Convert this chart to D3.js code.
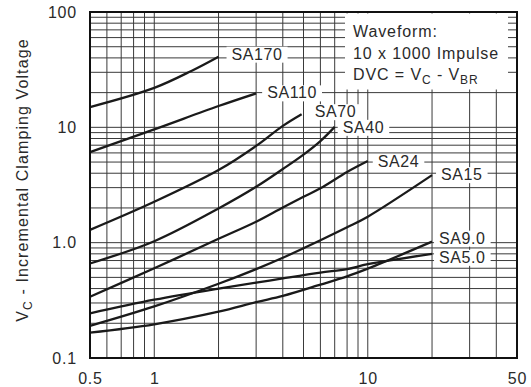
<!DOCTYPE html>
<html>
<head>
<meta charset="utf-8">
<script src="https://cdn.jsdelivr.net/npm/d3@7"></script>
<style>
  body { margin: 0; background: #fff; }
  svg text { font-family: "Liberation Sans", Arial, sans-serif; fill: #2a2a2a; }
</style>
</head>
<body>
<div id="chart"></div>
<script>
// values (x = peak pulse current, y = delta Vc)
var sa170 = [[0.5, 15], [1, 22], [1.5, 31], [2, 41]];
var sa110 = [[0.5, 6.1], [1, 9.6], [2, 15.3], [3, 19.7]];
var sa70 = [[0.5, 1.29], [1, 2.26], [2, 4.26], [3, 6.9], [4, 10.3], [4.9, 13]];
var sa40 = [[0.5, 0.66], [1, 1.03], [2, 1.98], [3, 3.05], [4, 4.35], [5, 5.8], [6, 7.6], [7, 10.1]];
var sa24 = [[0.5, 0.34], [1, 0.6], [2, 1.08], [3, 1.52], [4, 2.02], [5, 2.5], [6, 2.96], [8, 4.1], [10, 5.1]];
var sa15 = [[0.5, 0.19], [1, 0.28], [2, 0.44], [3, 0.59], [4, 0.74], [6, 1.05], [8, 1.36], [10, 1.68], [20, 3.85]];
var sa9 = [[0.5, 0.166], [1, 0.196], [2, 0.252], [3, 0.305], [4, 0.345], [6, 0.432], [8, 0.51], [10, 0.595], [20, 1.02]];
var sa5 = [[0.5, 0.244], [1, 0.32], [2, 0.40], [3, 0.45], [4, 0.49], [6, 0.55], [8, 0.59], [10, 0.65], [20, 0.8]];

var seriesNames = ['SA170', 'SA110', 'SA70', 'SA40', 'SA24', 'SA15', 'SA9.0', 'SA5.0'];
var seriesValues = [sa170, sa110, sa70, sa40, sa24, sa15, sa9, sa5];

var xTicks = [0.5, 1, 10, 50];
var xTickLabels = ['0.5', '1', '10', '50'];
var yTicks = [0.1, 1, 10, 100];
var yTickLabels = ['0.1', '1.0', '10', '100'];

// label nudges (px) relative to the end of each curve
var labelShift = {
    'SA170': [13, 3], 'SA110': [11, 5], 'SA70': [13, 3], 'SA40': [8, 6],
    'SA24': [10, 6], 'SA15': [9, 5], 'SA9.0': [7, 2], 'SA5.0': [7, 9]
};

var width = 531, height = 387;
var margin = { left: 90, right: 14, top: 12, bottom: 29 };

var svg = d3.select('#chart').append('svg')
    .attr('width', width)
    .attr('height', height);

var x = d3.scaleLog()
    .domain([0.5, 50])
    .range([margin.left, width - margin.right]);

var y = d3.scaleLog()
    .domain([0.1, 100])
    .range([height - margin.bottom, margin.top]);

// grid
var grid = svg.append('g').attr('class', 'grid')
    .attr('stroke', '#3a3a3a')
    .attr('stroke-width', 1);

grid.selectAll('.vline')
    .data(x.ticks())
    .enter().append('line')
    .attr('x1', function (d) { return x(d); })
    .attr('x2', function (d) { return x(d); })
    .attr('y1', y(0.1))
    .attr('y2', y(100));

grid.selectAll('.hline')
    .data(y.ticks())
    .enter().append('line')
    .attr('y1', function (d) { return y(d); })
    .attr('y2', function (d) { return y(d); })
    .attr('x1', x(0.5))
    .attr('x2', x(50));

// white boxes behind the notes
var boxes = svg.append('g');
var notes = svg.append('g');

// legend note
var legend = notes.append('text')
    .style('font-size', '16px')
    .style('letter-spacing', '0.9px');
legend.append('tspan').attr('x', 353).attr('y', 37).text('Waveform:');
legend.append('tspan').attr('x', 353).attr('y', 58.5).text('10 x 1000 Impulse');
legend.append('tspan').attr('x', 353).attr('y', 80).text('DVC = V');
legend.append('tspan').attr('dy', 4).style('font-size', '12px').text('C');
legend.append('tspan').attr('dy', -4).text(' - V');
legend.append('tspan').attr('dy', 4).style('font-size', '12px').text('BR');

boxes.append('rect')
    .attr('x', 345).attr('y', 13.5)
    .attr('width', 163).attr('height', 76)
    .attr('fill', '#fff');

// curves
var line = d3.line()
    .x(function (d) { return x(d[0]); })
    .y(function (d) { return y(d[1]); })
    .curve(d3.curveCatmullRom.alpha(0.5));

svg.append('g').selectAll('path')
    .data(seriesValues)
    .enter().append('path')
    .attr('d', line)
    .attr('fill', 'none')
    .attr('stroke', '#1a1a1a')
    .attr('stroke-width', 2.3);

// curve labels
seriesNames.forEach(function (name, i) {
    var last = seriesValues[i][seriesValues[i].length - 1];
    var t = notes.append('text')
        .attr('x', x(last[0]) + labelShift[name][0])
        .attr('y', y(last[1]) + labelShift[name][1])
        .style('font-size', '16px')
        .style('letter-spacing', '0.6px')
        .text(name);
    var b = t.node().getBBox();
    boxes.append('rect')
        .attr('x', b.x - 5).attr('y', b.y + 1)
        .attr('width', b.width + 10).attr('height', b.height - 1)
        .attr('fill', '#fff');
});

// frame
svg.append('rect')
    .attr('x', x(0.5)).attr('y', y(100))
    .attr('width', x(50) - x(0.5)).attr('height', y(0.1) - y(100))
    .attr('fill', 'none')
    .attr('stroke', '#111')
    .attr('stroke-width', 2);

// axes (labels only)
var xAxis = svg.append('g')
    .attr('transform', 'translate(0,' + y(0.1) + ')')
    .call(d3.axisBottom(x).tickValues(xTicks).tickSize(0).tickPadding(15)
        .tickFormat(function (d, i) { return xTickLabels[i]; }));

var yAxis = svg.append('g')
    .attr('transform', 'translate(' + x(0.5) + ',0)')
    .call(d3.axisLeft(y).tickValues(yTicks).tickSize(0).tickPadding(13)
        .tickFormat(function (d, i) { return yTickLabels[i]; }));

[xAxis, yAxis].forEach(function (a) {
    a.select('.domain').remove();
    a.selectAll('text')
        .style('font-size', '16px')
        .style('letter-spacing', '0.8px')
        .style('font-family', '"Liberation Sans", Arial, sans-serif')
        .attr('fill', '#2a2a2a');
});

// y title
var title = svg.append('text')
    .attr('transform', 'translate(28,' + 180 + ') rotate(-90)')
    .attr('text-anchor', 'middle')
    .style('font-size', '16px')
    .style('letter-spacing', '1.1px');
title.append('tspan').text('V');
title.append('tspan').attr('dy', 4).style('font-size', '12px').text('C');
title.append('tspan').attr('dy', -4).text(' - Incremental Clamping Voltage');
</script>
</body>
</html>
